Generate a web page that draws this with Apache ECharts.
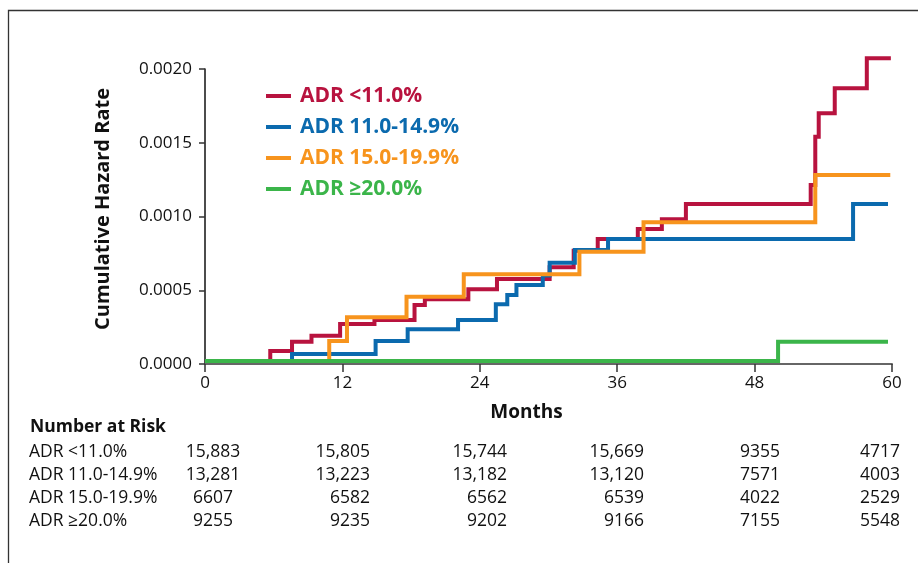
<!DOCTYPE html>
<html>
<head>
<meta charset="utf-8">
<script src="https://cdn.jsdelivr.net/npm/echarts@6/dist/echarts.min.js"></script>
<style>
  html, body { margin: 0; padding: 0; background: #fff; }
  #chart { width: 918px; height: 563px; }
</style>
</head>
<body>
<div id="chart"></div>
<script>
// Cumulative hazard step curves by ADR group (months, hazard)
const groupNames = ['ADR <11.0%', 'ADR 11.0-14.9%', 'ADR 15.0-19.9%', 'ADR \u226520.0%'];
const groupColors = ['#B8133F', '#0B6AAE', '#F7941D', '#3BB54A'];

const redMonths = [0, 5.7, 7.6, 9.3, 11.8, 14.8, 18.3, 19.2, 23.0, 25.5, 30.1, 32.2, 34.3, 37.8, 39.9, 42.0, 52.9, 53.3, 53.6, 55.0, 57.8, 59.9];
const redHazard = [0.00002, 0.000088, 0.000151, 0.000192, 0.000271, 0.000298, 0.0004, 0.000439, 0.000506, 0.000576, 0.000656, 0.000768, 0.000848, 0.000915, 0.000981, 0.001085, 0.001214, 0.001541, 0.0017, 0.001869, 0.002073, 0.002073];

const blueMonths = [0, 7.6, 14.9, 17.7, 22.1, 25.4, 26.4, 27.2, 29.5, 30.1, 32.3, 35.2, 56.6, 59.65];
const blueHazard = [0.00002, 0.000068, 0.000156, 0.000235, 0.000298, 0.000405, 0.000468, 0.000536, 0.0006, 0.000687, 0.000773, 0.000848, 0.001085, 0.001085];

const orangeMonths = [0, 10.85, 12.4, 17.6, 22.6, 32.7, 38.3, 53.3, 59.85];
const orangeHazard = [0.00002, 0.000156, 0.000317, 0.000456, 0.000608, 0.000761, 0.000961, 0.001281, 0.001281];

const greenMonths = [0, 50.05, 59.65];
const greenHazard = [0.00002, 0.000151, 0.000151];

// Number at risk table
const riskMonths = [0, 12, 24, 36, 48, 60];
const riskRed = ['15,883', '15,805', '15,744', '15,669', '9355', '4717'];
const riskBlue = ['13,281', '13,223', '13,182', '13,120', '7571', '4003'];
const riskOrange = ['6607', '6582', '6562', '6539', '4022', '2529'];
const riskGreen = ['9255', '9235', '9202', '9166', '7155', '5548'];

const FONT = '"Open Sans", "Noto Sans", sans-serif';

function pairs(xs, ys) { return xs.map((x, i) => [x, ys[i]]); }

const seriesData = [
  pairs(redMonths, redHazard),
  pairs(blueMonths, blueHazard),
  pairs(orangeMonths, orangeHazard),
  pairs(greenMonths, greenHazard)
];

const chart = echarts.init(document.getElementById('chart'), null, { renderer: 'canvas' });

// risk table text
const riskRows = [riskRed, riskBlue, riskOrange, riskGreen];
const rowY = [452, 475, 498, 521];
// first column centred, the rest right-aligned
const colX = [213, 370, 507, 644, 780, 900];
const colAlign = ['center', 'right', 'right', 'right', 'right', 'right'];

const graphics = [
  {
    type: 'polyline',
    shape: { points: [[8.5, 563], [8.5, 10.5], [918, 10.5]] },
    style: { stroke: '#333', lineWidth: 1.3, fill: null },
    silent: true
  },
  {
    // vertical axis title
    type: 'text', x: 103, y: 209, rotation: Math.PI / 2,
    style: { text: 'Cumulative Hazard Rate', font: 'bold 20px ' + FONT, fill: '#111',
      align: 'center', verticalAlign: 'middle' }
  },
  {
    type: 'text', x: 30, y: 427,
    style: { text: 'Number at Risk', font: 'bold 17.5px ' + FONT, fill: '#111', verticalAlign: 'middle' }
  }
];
groupNames.forEach((name, r) => {
  graphics.push({
    type: 'text', x: 29, y: rowY[r],
    style: { text: name, font: '17.5px ' + FONT, fill: '#111', verticalAlign: 'middle', align: 'left' }
  });
  riskRows[r].forEach((v, c) => {
    graphics.push({
      type: 'text', x: colX[c], y: rowY[r],
      style: { text: v, font: '17.5px ' + FONT, fill: '#111', verticalAlign: 'middle', align: colAlign[c] }
    });
  });
});

const option = {
  animation: false,
  backgroundColor: '#fff',
  grid: { left: 205, right: 26, top: 69, bottom: 199, containLabel: false },
  legend: {
    orient: 'vertical',
    left: 266, top: 85,
    padding: 0,
    icon: 'rect',
    itemWidth: 25, itemHeight: 4,
    itemGap: 9,
    selectedMode: false,
    textStyle: { fontFamily: FONT, fontWeight: 'bold', fontSize: 21, lineHeight: 22, padding: [0, 0, 0, 4] },
    data: groupNames.map((n, i) => ({ name: n, textStyle: { color: groupColors[i] } }))
  },
  xAxis: {
    type: 'value', min: 0, max: 60, interval: 12,
    name: 'Months', nameLocation: 'middle', nameGap: 39,
    nameTextStyle: { fontFamily: FONT, fontWeight: 'bold', fontSize: 19, color: '#111', padding: [0, 44, 0, 0] },
    axisLine: { show: true, lineStyle: { color: '#666', width: 2 } },
    axisTick: { show: true, length: 8, lineStyle: { color: '#333', width: 1.5 } },
    axisLabel: { fontFamily: FONT, fontSize: 17, color: '#111', margin: 11 },
    splitLine: { show: false }
  },
  yAxis: {
    type: 'value', min: 0, max: 0.002, interval: 0.0005,
    axisLine: { show: true, onZero: false, lineStyle: { color: '#111', width: 1.5 } },
    axisTick: { show: true, length: 6, lineStyle: { color: '#333', width: 1.5 } },
    axisLabel: { fontFamily: FONT, fontSize: 17, color: '#111', margin: 13,
      formatter: v => v.toFixed(4) },
    splitLine: { show: false }
  },
  series: groupNames.map((n, i) => ({
    name: n,
    type: 'line',
    step: 'end',
    data: seriesData[i],
    showSymbol: false,
    symbol: 'none',
    clip: false,
    color: groupColors[i],
    lineStyle: { width: 4, color: groupColors[i], join: 'miter' },
    z: 2 + i
  })),
  graphic: graphics
};

chart.setOption(option);
</script>
</body>
</html>
